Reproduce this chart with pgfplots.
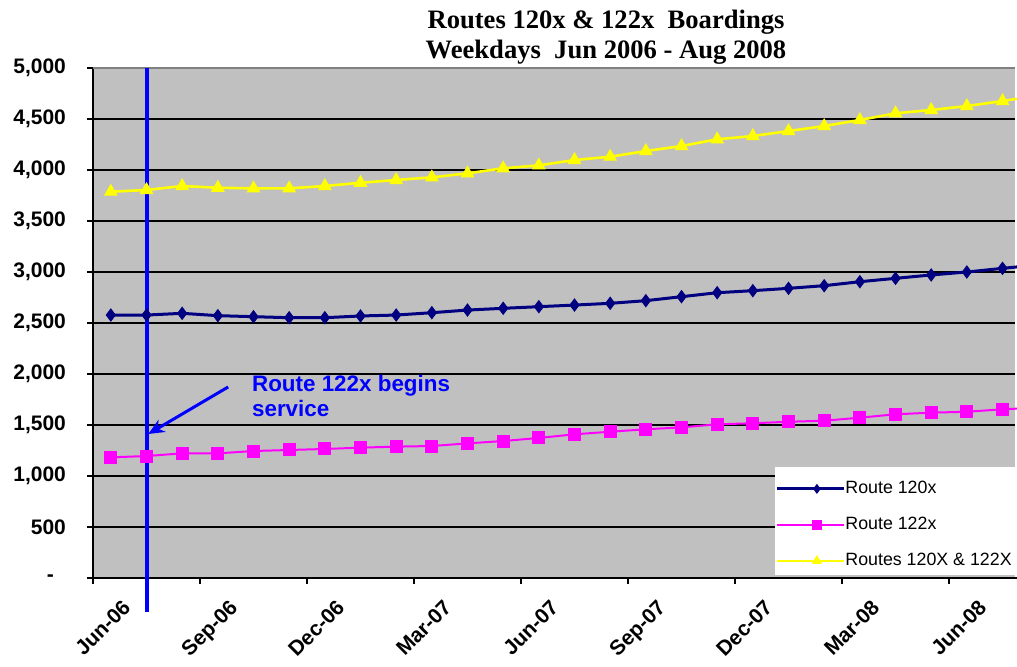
\documentclass[border=0pt]{standalone}
\usepackage{pgfplots}
\pgfplotsset{compat=1.18}
\usepackage{pgfplotstable}
\usetikzlibrary{arrows.meta}
\usepackage{fontspec}
\setmainfont{Liberation Sans}
\newfontfamily\titlefont{Liberation Serif}
\definecolor{plotgray}{RGB}{192,192,192}
\definecolor{bordergray}{RGB}{128,128,128}
\definecolor{navyc}{RGB}{0,0,128}
\definecolor{magc}{RGB}{255,0,255}
\definecolor{yelc}{RGB}{255,255,0}
\definecolor{bluec}{RGB}{0,0,255}
\pgfplotstableread{
x    r120  r122  rall
0.5  2578  1183  3787
1.5  2578  1196  3804
2.5  2595  1222  3843
3.5  2572  1222  3826
4.5  2562  1245  3820
5.5  2552  1255  3820
6.5  2552  1265  3843
7.5  2569  1278  3875
8.5  2578  1288  3902
9.5  2601  1294  3928
10.5 2627  1320  3967
11.5 2644  1343  4017
12.5 2660  1373  4045
13.5 2676  1409  4098
14.5 2693  1434  4130
15.5 2719  1458  4186
16.5 2758  1477  4235
17.5 2797  1507  4301
18.5 2817  1517  4333
19.5 2840  1532  4382
20.5 2866  1542  4431
21.5 2905  1572  4490
22.5 2938  1605  4556
23.5 2971  1621  4588
24.5 3000  1630  4627
25.5 3036  1654  4676
26.5 3070  1670  4730
}\data
\begin{document}
\begin{tikzpicture}
\begin{axis}[
  at={(0,0)}, anchor=south west,
  width=461pt, height=255pt, scale only axis,
  xmin=0, xmax=25.85, ymin=0, ymax=5000,
  axis lines*=left,
  axis line style={black, line width=0.9pt},
  axis background/.style={fill=plotgray},
  clip=false,
  xtick={0,3,...,24},
  xticklabels={Jun-06,Sep-06,Dec-06,Mar-07,Jun-07,Sep-07,Dec-07,Mar-08,Jun-08},
  ytick={0,500,...,5000},
  yticklabels={{\mbox{-\kern6pt}},500,{1,000},{1,500},{2,000},{2,500},{3,000},{3,500},{4,000},{4,500},{5,000}},
  tick align=outside,
  major tick length=3pt,
  tick style={black, line width=0.9pt},
  ymajorgrids,
  grid style={black, line width=0.6pt},
  yticklabel style={font=\bfseries\fontsize{10.5}{12}\selectfont, xshift=-7pt},
  xticklabel style={font=\bfseries\fontsize{10.5}{12}\selectfont, rotate=45, anchor=north east, inner sep=0pt, xshift=5pt, yshift=-15pt},
  legend style={at={(0.7397,0.2118)}, anchor=north west, draw=none, fill=none,
    inner xsep=0pt, inner ysep=5pt, row sep=9.5pt, column sep=0pt,
    font=\fontsize{8.9}{10}\selectfont,
    nodes={inner sep=0pt, text height=6.5pt, text depth=2pt}},
  legend cell align=left,
  legend image code/.code={
    \path (0pt,0pt) -- (33.5pt,0pt);
    \draw[mark repeat=2,mark phase=2,#1,/tikz/every mark/.append style={scale=0.7}]
      plot coordinates {(8.5pt,0pt) (20pt,0pt) (31.5pt,0pt)};
  },
]
\fill[white] (axis cs:19.12,1088) rectangle (axis cs:27,30);
\addplot[navyc, line width=1.5pt, mark=diamond*, mark size=3pt, mark options={fill=navyc, draw=navyc, line width=0.5pt}] table[x=x, y=r120] {\data};
\addlegendentry{Route 120x}
\addplot[magc, line width=1pt, mark=square*, mark size=3pt, mark options={fill=magc, draw=magc, line width=0.5pt}] table[x=x, y=r122] {\data};
\addlegendentry{Route 122x}
\addplot[yelc, line width=1.3pt, mark=triangle*, mark size=3.5pt, mark options={fill=yelc, draw=yelc, line width=0.5pt}] table[x=x, y=rall] {\data};
\addlegendentry{Routes 120X \& 122X}
\draw[bordergray, line width=0.8pt] (axis cs:0,5000) -- (axis cs:25.85,5000);
\draw[bluec, line width=2pt] (axis cs:1.5,5000) -- (axis cs:1.5,-330);
\draw[bluec, line width=1.5pt, -{Stealth[length=8pt,width=7pt]}] (axis cs:3.79,1873) -- (axis cs:1.55,1412);
\node[anchor=north west, inner sep=0pt, align=left, text=bluec, font=\bfseries\fontsize{11.2}{12.5}\selectfont] at (axis cs:4.45,1990) {Route 122x begins\\service};
\end{axis}
\draw[black, line width=0.9pt] (461pt,0pt) -- (463pt,0pt);
\node[anchor=base, inner sep=0pt, font=\titlefont\bfseries\fontsize{13.3}{15}\selectfont] at (256.5pt,275pt) {Routes 120x \& 122x\ \ Boardings};
\node[anchor=base, inner sep=0pt, font=\titlefont\bfseries\fontsize{13.3}{15}\selectfont] at (256.5pt,260pt) {Weekdays\ \ Jun 2006 - Aug 2008};
\pgfresetboundingbox
\path[use as bounding box] (-46.5pt,-44pt) rectangle (462pt,289pt);
\end{tikzpicture}
\end{document}
